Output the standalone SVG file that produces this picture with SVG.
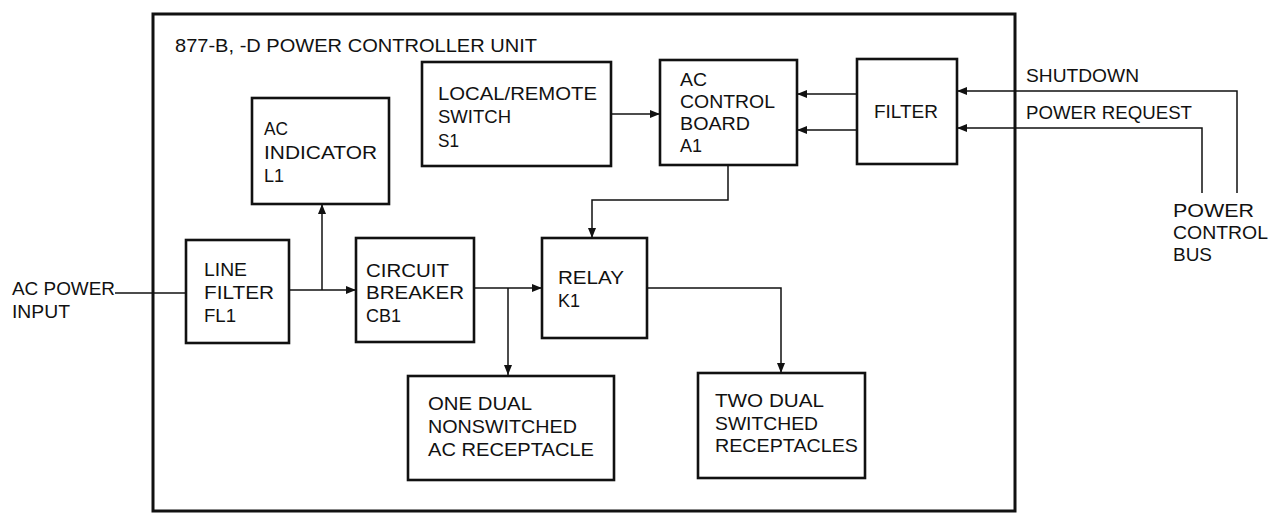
<svg xmlns="http://www.w3.org/2000/svg" width="1279" height="517" viewBox="0 0 1279 517">
<style>
.box{fill:none;stroke:#111;stroke-width:2.6}
.outer{fill:none;stroke:#111;stroke-width:3}
.ln{fill:none;stroke:#111;stroke-width:1.5}
text{font-family:"Liberation Sans",Arial,sans-serif;font-size:19px;fill:#111}
</style>
<defs>
<marker id="ah" viewBox="0 0 10 8" refX="10" refY="4" markerWidth="11" markerHeight="8" markerUnits="userSpaceOnUse" orient="auto">
<path d="M0,0 L10,4 L0,8 Z" fill="#111"/>
</marker>
</defs>
<rect width="1279" height="517" fill="#fff"/>
<g id="unit">
<rect class="outer" x="153" y="14" width="862" height="497"/>
<text x="175" y="52" textLength="362" lengthAdjust="spacingAndGlyphs">877-B, -D POWER CONTROLLER UNIT</text>
</g>
<g id="ac-indicator">
<rect class="box" x="252" y="98" width="137" height="106"/>
<text x="264" y="135" textLength="24" lengthAdjust="spacingAndGlyphs">AC</text>
<text x="264" y="159" textLength="113" lengthAdjust="spacingAndGlyphs">INDICATOR</text>
<text x="264" y="182" textLength="20" lengthAdjust="spacingAndGlyphs">L1</text>
</g>
<g id="local-remote">
<rect class="box" x="422" y="62" width="189" height="104"/>
<text x="438" y="100" textLength="159" lengthAdjust="spacingAndGlyphs">LOCAL/REMOTE</text>
<text x="438" y="123" textLength="73" lengthAdjust="spacingAndGlyphs">SWITCH</text>
<text x="438" y="147" textLength="21" lengthAdjust="spacingAndGlyphs">S1</text>
</g>
<g id="ac-control">
<rect class="box" x="660" y="60" width="137" height="105"/>
<text x="680" y="86" textLength="27" lengthAdjust="spacingAndGlyphs">AC</text>
<text x="680" y="108" textLength="95" lengthAdjust="spacingAndGlyphs">CONTROL</text>
<text x="680" y="130" textLength="70" lengthAdjust="spacingAndGlyphs">BOARD</text>
<text x="680" y="152" textLength="22" lengthAdjust="spacingAndGlyphs">A1</text>
</g>
<g id="filter">
<rect class="box" x="857" y="59" width="100" height="105"/>
<text x="874" y="118" textLength="64" lengthAdjust="spacingAndGlyphs">FILTER</text>
</g>
<g id="line-filter">
<rect class="box" x="186" y="240" width="103" height="103"/>
<text x="204" y="276" textLength="43" lengthAdjust="spacingAndGlyphs">LINE</text>
<text x="204" y="299" textLength="70" lengthAdjust="spacingAndGlyphs">FILTER</text>
<text x="204" y="322" textLength="32" lengthAdjust="spacingAndGlyphs">FL1</text>
</g>
<g id="circuit-breaker">
<rect class="box" x="356" y="238" width="118" height="104"/>
<text x="366" y="277" textLength="83" lengthAdjust="spacingAndGlyphs">CIRCUIT</text>
<text x="366" y="299" textLength="98" lengthAdjust="spacingAndGlyphs">BREAKER</text>
<text x="366" y="322" textLength="35" lengthAdjust="spacingAndGlyphs">CB1</text>
</g>
<g id="relay">
<rect class="box" x="542" y="238" width="105" height="100"/>
<text x="558" y="284" textLength="66" lengthAdjust="spacingAndGlyphs">RELAY</text>
<text x="558" y="307" textLength="22" lengthAdjust="spacingAndGlyphs">K1</text>
</g>
<g id="one-dual">
<rect class="box" x="408" y="376" width="206" height="104"/>
<text x="428" y="410" textLength="104" lengthAdjust="spacingAndGlyphs">ONE DUAL</text>
<text x="428" y="433" textLength="149" lengthAdjust="spacingAndGlyphs">NONSWITCHED</text>
<text x="428" y="456" textLength="166" lengthAdjust="spacingAndGlyphs">AC RECEPTACLE</text>
</g>
<g id="two-dual">
<rect class="box" x="698" y="373" width="167" height="105"/>
<text x="715" y="407" textLength="109" lengthAdjust="spacingAndGlyphs">TWO DUAL</text>
<text x="715" y="430" textLength="103" lengthAdjust="spacingAndGlyphs">SWITCHED</text>
<text x="715" y="452" textLength="143" lengthAdjust="spacingAndGlyphs">RECEPTACLES</text>
</g>
<g id="external-labels">
<text x="12" y="295" textLength="103" lengthAdjust="spacingAndGlyphs">AC POWER</text>
<text x="12" y="318" textLength="58" lengthAdjust="spacingAndGlyphs">INPUT</text>
<text x="1026" y="82" textLength="113" lengthAdjust="spacingAndGlyphs">SHUTDOWN</text>
<text x="1026" y="119" textLength="166" lengthAdjust="spacingAndGlyphs">POWER REQUEST</text>
<text x="1173" y="217" textLength="81" lengthAdjust="spacingAndGlyphs">POWER</text>
<text x="1173" y="239" textLength="95" lengthAdjust="spacingAndGlyphs">CONTROL</text>
<text x="1173" y="261" textLength="39" lengthAdjust="spacingAndGlyphs">BUS</text>
</g>
<g id="connectors">
<path class="ln" d="M115,293 H186"/>
<path class="ln" d="M289,290 H356" marker-end="url(#ah)"/>
<path class="ln" d="M322,290 V204" marker-end="url(#ah)"/>
<path class="ln" d="M474,288 H542" marker-end="url(#ah)"/>
<path class="ln" d="M508,288 V375" marker-end="url(#ah)"/>
<path class="ln" d="M647,288 H781 V373" marker-end="url(#ah)"/>
<path class="ln" d="M728,165 V200 H592 V238" marker-end="url(#ah)"/>
<path class="ln" d="M611,114 H660" marker-end="url(#ah)"/>
<path class="ln" d="M857,94 H797" marker-end="url(#ah)"/>
<path class="ln" d="M857,130 H797" marker-end="url(#ah)"/>
<path class="ln" d="M1237,193 V91 H957" marker-end="url(#ah)"/>
<path class="ln" d="M1202,193 V128 H957" marker-end="url(#ah)"/>
</g>
</svg>
